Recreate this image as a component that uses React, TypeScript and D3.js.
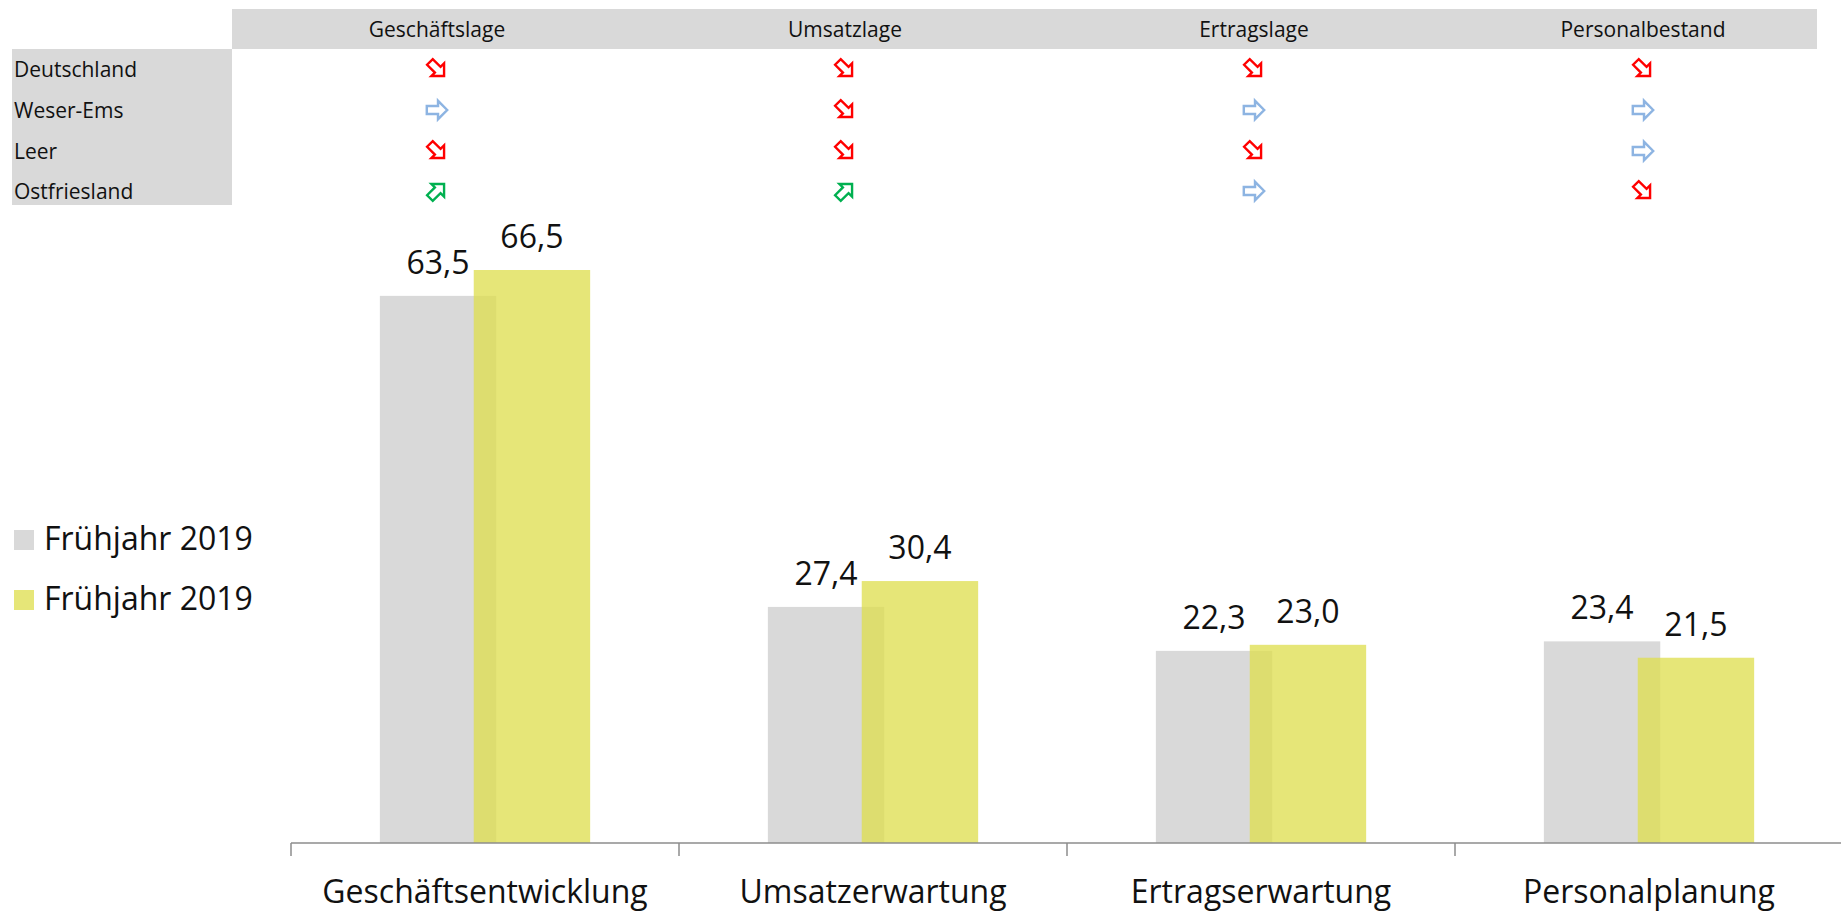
import React from "react";
import * as d3 from "d3";

// ---- data ----
const categories = ["Geschäftsentwicklung", "Umsatzerwartung", "Ertragserwartung", "Personalplanung"];
const seriesNames = ["Frühjahr 2019", "Frühjahr 2019"];
const seriesA = [63.5, 27.4, 22.3, 23.4];
const seriesB = [66.5, 30.4, 23.0, 21.5];

const tableHeaders = ["Geschäftslage", "Umsatzlage", "Ertragslage", "Personalbestand"];
const tableRows = ["Deutschland", "Weser-Ems", "Leer", "Ostfriesland"];
// trend per row / column: "down", "flat", "up"
const trendDeutschland = ["down", "down", "down", "down"];
const trendWeserEms = ["flat", "down", "flat", "flat"];
const trendLeer = ["down", "down", "down", "flat"];
const trendOstfriesland = ["up", "up", "flat", "down"];
const trends = [trendDeutschland, trendWeserEms, trendLeer, trendOstfriesland];

// ---- layout ----
const W = 1841;
const H = 911;
const FONT = "'Open Sans', sans-serif";
const GREY = "#d9d9d9";
const YELLOW = "rgb(221,221,75)";
const axisY = 843;
const axisX0 = 291;
const axisX1 = 1843;
const colCenters = [437, 845, 1254, 1643];
const rowCenters = [69, 110, 151, 191];

const trendStyle: Record<string, { color: string; angle: number }> = {
  down: { color: "#ff0000", angle: 45 },
  flat: { color: "#8db4e2", angle: 0 },
  up: { color: "#00b050", angle: -45 },
};

// right-pointing block arrow, tip at (10,0), 90° head
const arrowPath = "M10,0 L1,-9 L1,-4 L-10,-4 L-10,4 L1,4 L1,9 Z";

export default function App() {
  const x = d3.scaleBand<string>().domain(categories).range([axisX0, axisX1]);
  const bw = x.bandwidth();
  const sub = d3.scaleOrdinal<number, number>().domain([0, 1]).range([0.379, 0.621]);
  const barW = bw * 0.30;
  const y = d3.scaleLinear().domain([0, 66.5]).range([axisY, 270]);
  const series = [seriesA, seriesB];
  const colors = [GREY, YELLOW];
  const opac = [1, 0.75];

  const ticks = categories.map((c) => x(c)!).concat([axisX1]);

  return (
    <svg width={W} height={H} style={{ display: "block", position: "absolute", left: 0, top: 0 }} fontFamily={FONT}>
      {/* table */}
      <rect x={232} y={9} width={1817 - 232} height={40} fill={GREY} />
      <rect x={12} y={49} width={232 - 12} height={205 - 49} fill={GREY} />
      {tableHeaders.map((h, i) => (
        <text key={h} x={colCenters[i]} y={37} textAnchor="middle" fontSize={21} fill="#111">
          {h}
        </text>
      ))}
      {tableRows.map((r, j) => (
        <text key={r} x={14} y={rowCenters[j] + 8} fontSize={21} fill="#111">
          {r}
        </text>
      ))}
      {trends.map((row, j) =>
        row.map((t, i) => {
          const s = trendStyle[t];
          const sc = t === "flat" ? 1.02 : 1;
          return (
            <path
              key={`${j}-${i}`}
              d={arrowPath}
              transform={`translate(${colCenters[i]},${rowCenters[j]}) rotate(${s.angle}) scale(${sc})`}
              fill="#fff"
              stroke={s.color}
              strokeWidth={2.4}
              strokeLinejoin="miter"
            />
          );
        })
      )}

      {/* bars */}
      {series.map((vals, si) =>
        vals.map((v, ci) => {
          const cx = x(categories[ci])! + sub(si) * bw;
          return (
            <rect
              key={`b${si}-${ci}`}
              x={cx - barW / 2}
              y={y(v)}
              width={barW}
              height={axisY - y(v)}
              fill={colors[si]}
              fillOpacity={opac[si]}
            />
          );
        })
      )}
      {series.map((vals, si) =>
        vals.map((v, ci) => {
          const cx = x(categories[ci])! + sub(si) * bw;
          return (
            <text key={`l${si}-${ci}`} x={cx} y={y(v) - 22} textAnchor="middle" fontSize={32} fill="#111">
              {d3.format(".1f")(v).replace(".", ",")}
            </text>
          );
        })
      )}

      {/* axis */}
      <line x1={axisX0} x2={axisX1} y1={axisY} y2={axisY} stroke="#8c8c8c" strokeWidth={1.5} />
      {ticks.map((t, i) => (
        <line key={i} x1={t} x2={t} y1={axisY} y2={axisY + 13} stroke="#8c8c8c" strokeWidth={1.5} />
      ))}
      {categories.map((c) => (
        <text key={c} x={x(c)! + bw / 2} y={903} textAnchor="middle" fontSize={32} fill="#111">
          {c}
        </text>
      ))}

      {/* legend */}
      {seriesNames.map((n, i) => (
        <g key={i} transform={`translate(14,${530 + i * 60})`}>
          <rect width={20} height={20} fill={colors[i]} fillOpacity={opac[i]} />
          <text x={30} y={20} fontSize={32} fill="#111">
            {n}
          </text>
        </g>
      ))}
    </svg>
  );
}
